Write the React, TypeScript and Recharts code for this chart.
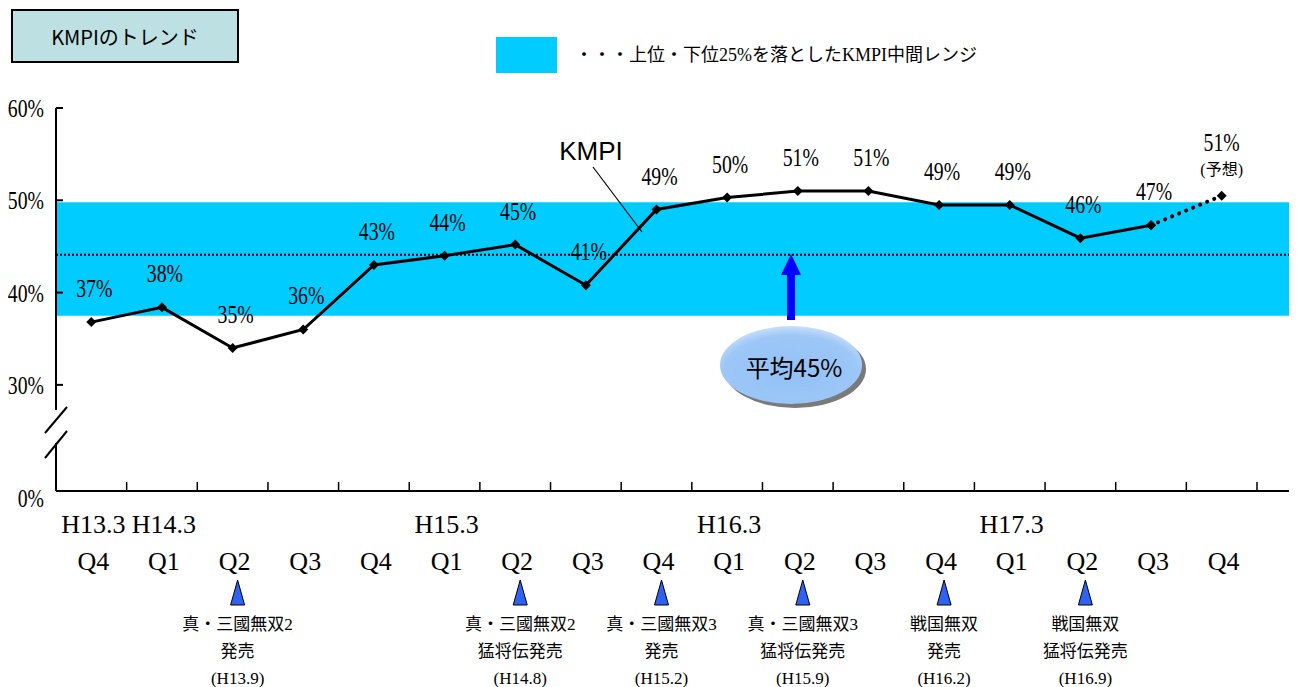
import React from "react";
import {
  LineChart,
  Line,
  XAxis,
  YAxis,
  ReferenceArea,
  ReferenceLine,
  LabelList,
} from "recharts";

const quarters = ["Q4", "Q1", "Q2", "Q3", "Q4", "Q1", "Q2", "Q3", "Q4", "Q1", "Q2", "Q3", "Q4", "Q1", "Q2", "Q3", "Q4"];
const fiscalMarks = ["H13.3", "H14.3", "", "", "", "H15.3", "", "", "", "H16.3", "", "", "", "H17.3", "", "", ""];
const kmpi = [36.8, 38.4, 34.0, 36.0, 43.0, 44.0, 45.2, 40.8, 49.0, 50.3, 51.0, 51.0, 49.5, 49.5, 45.9, 47.3, 50.5];
const kmpiLabels = ["37%", "38%", "35%", "36%", "43%", "44%", "45%", "41%", "49%", "50%", "51%", "51%", "49%", "49%", "46%", "47%", "51%"];
const lastActual = 15;
const midRange = [37.5, 49.8];
const average = 44.1;
const yTicks = [0, 30, 40, 50, 60];
const releases = [
  { at: 2, lines: ["真・三國無双2", "発売", "(H13.9)"] },
  { at: 6, lines: ["真・三國無双2", "猛将伝発売", "(H14.8)"] },
  { at: 8, lines: ["真・三國無双3", "発売", "(H15.2)"] },
  { at: 10, lines: ["真・三國無双3", "猛将伝発売", "(H15.9)"] },
  { at: 12, lines: ["戦国無双", "発売", "(H16.2)"] },
  { at: 14, lines: ["戦国無双", "猛将伝発売", "(H16.9)"] },
];

const W = 1289;
const H = 679;
const Y_AXIS_W = 48;
const PAD_RIGHT = 40;
const BAND = (W - Y_AXIS_W - PAD_RIGHT) / quarters.length;
const SERIF = '"Liberation Serif", "Noto Sans CJK JP", serif';
const SANS = '"Noto Sans CJK JP", "Liberation Sans", sans-serif';

// broken axis: 0-30% squeezed into a short stretch
const toAxis = (v: number) => (v >= 30 ? v - 18.5 : (v / 30) * 11.5);

const data = quarters.map((q, i) => ({
  i,
  all: toAxis(kmpi[i]),
  actual: i <= lastActual ? toAxis(kmpi[i]) : null,
  forecast: i >= lastActual ? toAxis(kmpi[i]) : null,
}));

function Diamond(props: any) {
  const { cx, cy, index } = props;
  if (cx == null || cy == null) return <g key={index} />;
  return (
    <path
      key={index}
      d={`M${cx},${cy - 5} L${cx + 5},${cy} L${cx},${cy + 5} L${cx - 5},${cy} Z`}
      fill="#000"
    />
  );
}

function PointLabel(props: any) {
  const { x, y, index } = props;
  if (x == null || y == null) return null;
  if (index === quarters.length - 1) {
    return (
      <g>
        <text transform={`translate(${x},${y - 45}) scale(0.76,1)`} textAnchor="middle" fontSize={26} fontFamily={SERIF}>
          {kmpiLabels[index]}
        </text>
        <text x={x} y={y - 21} textAnchor="middle" fontSize={16} fontFamily={SERIF}>
          (予想)
        </text>
      </g>
    );
  }
  return (
    <text transform={`translate(${x + 3},${y - 25}) scale(0.76,1)`} textAnchor="middle" fontSize={26} fontFamily={SERIF}>
      {kmpiLabels[index]}
    </text>
  );
}

function PercentTick(props: any) {
  const { x, y, index } = props;
  const v = yTicks[index];
  return (
    <g>
      {v > 0 && <line x1={x} x2={x + 7} y1={y} y2={y} stroke="#000" strokeWidth={2} />}
      {v === 0 && (
        <g>
          <rect x={x - 4} y={y - 81} width={8} height={33} fill="#fff" />
          <line x1={x - 11} y1={y - 33} x2={x + 11} y2={y - 60} stroke="#000" strokeWidth={2} />
          <line x1={x - 11} y1={y - 58} x2={x + 11} y2={y - 84} stroke="#000" strokeWidth={2} />
        </g>
      )}
      <text
        transform={`translate(${x - 12},${y + (v === 0 ? 16 : 9)}) scale(0.76,1)`}
        textAnchor="end"
        fontSize={26}
        fontFamily={SERIF}
      >
        {v}%
      </text>
    </g>
  );
}

function QuarterTick(props: any) {
  const { x, y, payload } = props;
  const i = Number(payload.value);
  const rel = releases.find((r) => r.at === i);
  return (
    <g>
      {i > 0 && <line x1={x - BAND / 2} x2={x - BAND / 2} y1={y} y2={y - 9} stroke="#000" strokeWidth={1.5} />}
      {i === quarters.length - 1 && (
        <line x1={x + BAND / 2} x2={x + BAND / 2} y1={y} y2={y - 9} stroke="#000" strokeWidth={1.5} />
      )}
      {fiscalMarks[i] && (
        <text x={x + 2} y={y + 42} textAnchor="middle" fontSize={26} fontFamily={SERIF}>
          {fiscalMarks[i]}
        </text>
      )}
      <text x={x + 2} y={y + 79} textAnchor="middle" fontSize={26} fontFamily={SERIF}>
        {quarters[i]}
      </text>
      {rel && (
        <g>
          <polygon
            points={`${x + 5},${y + 89} ${x - 2},${y + 114} ${x + 12},${y + 114}`}
            fill="#2F62F2"
            stroke="#000"
            strokeWidth={1}
          />
          {rel.lines.map((t, k) => (
            <text key={k} x={x + 5} y={y + 139 + k * 27} textAnchor="middle" fontSize={17} fontFamily={SERIF}>
              {t}
            </text>
          ))}
        </g>
      )}
    </g>
  );
}

export default function App() {
  return (
    <div style={{ position: "relative", width: W, height: H }}>
      <LineChart width={W} height={H} data={data} margin={{ top: 100, right: 0, bottom: 0, left: 0 }}>
        <XAxis xAxisId="full" type="number" domain={[0, 1]} hide />
        <XAxis
          dataKey="i"
          type="category"
          scale="band"
          height={196}
          padding={{ left: 0, right: PAD_RIGHT }}
          tickSize={0}
          tickMargin={0}
          tickLine={false}
          interval={0}
          axisLine={{ stroke: "#000", strokeWidth: 2 }}
          tick={<QuarterTick />}
        />
        <YAxis
          type="number"
          width={Y_AXIS_W}
          domain={[0, toAxis(60)]}
          ticks={yTicks.map(toAxis)}
          interval={0}
          tickSize={0}
          tickMargin={0}
          tickLine={false}
          axisLine={{ stroke: "#000", strokeWidth: 2 }}
          tick={<PercentTick />}
        />
        <ReferenceArea
          xAxisId="full"
          y1={toAxis(midRange[0])}
          y2={toAxis(midRange[1])}
          fill="#00CCFF"
          fillOpacity={1}
          stroke="none"
          ifOverflow="visible"
        />
        <ReferenceLine
          xAxisId="full"
          y={toAxis(average)}
          stroke="#000"
          strokeWidth={2}
          strokeDasharray="2 2"
        />
        <Line
          dataKey="actual"
          stroke="#000"
          strokeWidth={3}
          type="linear"
          dot={Diamond}
          activeDot={false}
          isAnimationActive={false}
        />
        <Line
          dataKey="forecast"
          stroke="#000"
          strokeWidth={4}
          strokeDasharray="0.1 7.5"
          strokeLinecap="round"
          type="linear"
          dot={Diamond}
          activeDot={false}
          isAnimationActive={false}
        />
        <Line dataKey="all" stroke="none" dot={false} activeDot={false} isAnimationActive={false}>
          <LabelList dataKey="all" content={PointLabel} />
        </Line>
      </LineChart>

      <svg width={W} height={H} style={{ position: "absolute", left: 0, top: 0, pointerEvents: "none" }}>
        <defs>
          <radialGradient id="avgFill" cx="50%" cy="60%" r="60%">
            <stop offset="0%" stopColor="#93C1F6" />
            <stop offset="80%" stopColor="#9CC7F7" />
            <stop offset="100%" stopColor="#C8DFFA" />
          </radialGradient>
        </defs>
        <text x={583} y={152} textAnchor="middle" fontSize={26} fontFamily='"Liberation Sans", sans-serif'>
          KMPI
        </text>
        <line x1={585} y1={159} x2={634} y2={224} stroke="#000" strokeWidth={1.2} />
        <rect x={779} y={266} width={8} height={46} fill="#0000FF" />
        <polygon points="783,246 773,267 793,267" fill="#0000FF" />
        <ellipse cx={787} cy={361} rx={71} ry={39} fill="#7A7A7A" />
        <ellipse cx={783} cy={357} rx={71} ry={39} fill="url(#avgFill)" />
        <text x={786} y={358} textAnchor="middle" dominantBaseline="central" fontSize={24} fontFamily={SANS}>
          平均45%
        </text>
      </svg>

      <div
        style={{
          position: "absolute",
          left: 3,
          top: 1,
          width: 228,
          height: 54,
          boxSizing: "border-box",
          border: "2px solid #000",
          background: "#BDE0E3",
          display: "flex",
          alignItems: "center",
          justifyContent: "center",
          fontFamily: SANS,
          fontSize: 20,
        }}
      >
        KMPIのトレンド
      </div>
      <div style={{ position: "absolute", left: 488, top: 29, width: 61, height: 36, background: "#00CCFF" }} />
      <div
        style={{
          position: "absolute",
          left: 567,
          top: 34,
          lineHeight: "26px",
          fontFamily: SERIF,
          fontSize: 18,
          whiteSpace: "nowrap",
        }}
      >
        ・・・上位・下位25%を落としたKMPI中間レンジ
      </div>
    </div>
  );
}
